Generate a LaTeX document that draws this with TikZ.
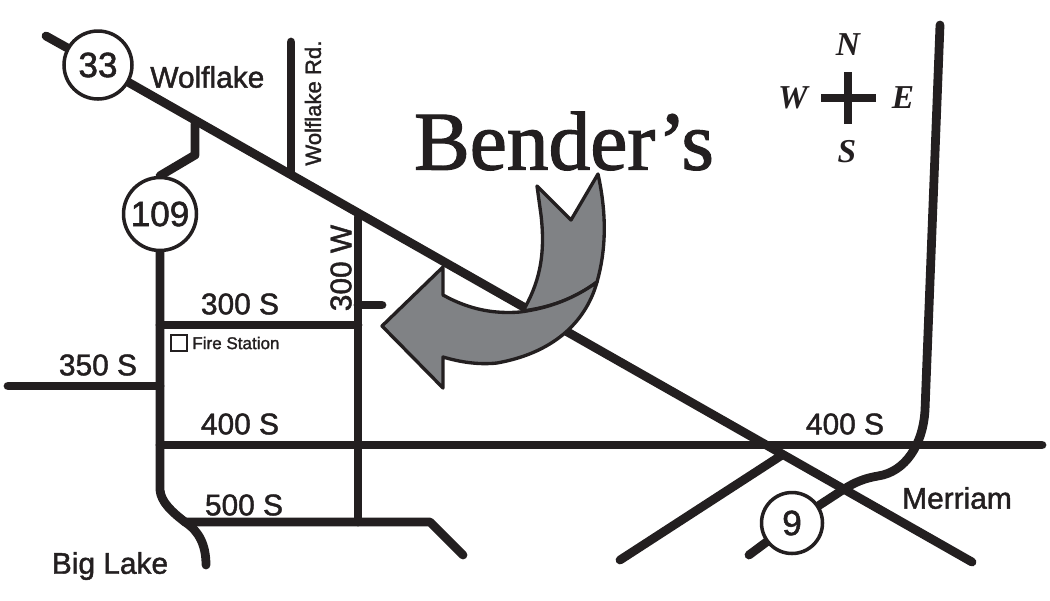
\documentclass[tikz,border=0pt]{standalone}
\usepackage{fontspec}
\usetikzlibrary{backgrounds}
\setmainfont{Liberation Sans}[FakeBold=1.5]
\newfontfamily\serifname{Liberation Serif}[FakeBold=1.5]
\newfontfamily\compassname{Liberation Serif}
\definecolor{ink}{HTML}{231F20}
\definecolor{arrowgray}{HTML}{808285}
\tikzset{
	road/.style={draw=ink, line width=5pt, line cap=round, line join=round},
	shield/.style={circle, draw=ink, fill=white, line width=2pt, inner sep=0pt, text=ink, font=\fontsize{20}{22}\selectfont},
	place/.style={text=ink, inner sep=0pt, font=\fontsize{17}{19}\selectfont},
	compass/.style={text=ink, inner sep=0pt, font=\compassname\bfseries\itshape\fontsize{19}{21}\selectfont},
	bigarrow/.style={draw=ink, fill=arrowgray, line width=1.9pt, line join=round}
}
\begin{document}
\begin{tikzpicture}[x=0.02cm, y=-0.02cm]
	\useasboundingbox (0,0) rectangle (1050,600);

	\coordinate (diagA) at (46,36);
	\coordinate (diagB) at (972,562);
	\coordinate (forkA) at (195,124);
	\coordinate (forkB) at (195,155);
	\coordinate (rdTop) at (291,42);
	\coordinate (rdFoot) at (291,174);
	\coordinate (wTop) at (358,217);
	\coordinate (wFoot) at (358,522);
	\coordinate (stubA) at (358,305);
	\coordinate (stubB) at (382,305);
	\coordinate (southA) at (160,325);
	\coordinate (southB) at (358,325);
	\coordinate (westA) at (8,386);
	\coordinate (westB) at (160,386);
	\coordinate (longA) at (160,445);
	\coordinate (longB) at (1042,445);
	\coordinate (lakeBend) at (185,522);
	\coordinate (lakeEnd) at (206,565);
	\coordinate (lowA) at (430,522);
	\coordinate (lowB) at (463,555);
	\coordinate (crossA) at (620,560);
	\coordinate (crossB) at (782,455);
	\coordinate (nineEnd) at (749,555);
	\coordinate (nineTop) at (940,25);

	\node [shield, minimum size=1.36cm] (s33) at (98,65) {33};
	\node [shield, minimum size=1.46cm] (s109) at (160,214) {109};
	\node [shield, minimum size=1.22cm] (s9) at (792,523) {9};

	% roads
	\begin{scope}[on background layer]
		\draw [road] (diagA) -- (s33) -- (diagB);
		\draw [road] (forkA) -- (forkB) -- (s109.north);
		\draw [road] (rdTop) -- (rdFoot);
		\draw [road] (wTop) -- (wFoot);
		\draw [road] (stubA) -- (stubB);
		\draw [road] (southA) -- (southB);
		\draw [road] (westA) -- (westB);
		\draw [road] (longA) -- (longB);
		\draw [road] (s109.south) -- (160,490) .. controls (161,502) and (172,512) .. (lakeBend) .. controls (199,531) and (206,545) .. (lakeEnd);
		\draw [road] (lakeBend) -- (lowA) -- (lowB);
		\draw [road] (crossA) -- (crossB);
		\draw [road] (nineTop) -- (925,410) .. controls (923,445) and (905,472) .. (878,476) .. controls (860,479) and (850,485) .. (838,493) -- (s9);
		\draw [road] (s9) -- (nineEnd);
	\end{scope}

	% pointer
	\draw [bigarrow] (523,311) .. controls (538,285) and (546,258) .. (541,215) -- (537,186) -- (571,220) -- (598,174) .. controls (607,215) and (606,250) .. (597,282) .. controls (573,300) and (550,307) .. cycle;
	\draw [bigarrow] (382,326) -- (443,267) -- (443,295) .. controls (470,310) and (495,314) .. (520,312) .. controls (550,308) and (575,298) .. (597,282) .. controls (587,318) and (558,352) .. (497,363) .. controls (478,365) and (460,362) .. (443,357) -- (443,388) -- cycle;

	% labels
	\node [place, anchor=west] (wolflake) at (150,77) {Wolflake};
	\node [place, anchor=west, rotate=90, font=\fontsize{12.6}{15}\selectfont] (wolflakeRd) at (313,166) {Wolflake Rd.};
	\node [place, rotate=90] (w300) at (341,268) {300 W};
	\node [place] (s300) at (240,304) {300 S};
	\node [place] (s350) at (98,365) {350 S};
	\node [place] (s400a) at (240,424) {400 S};
	\node [place] (s400b) at (845,424) {400 S};
	\node [place] (s500) at (244,505) {500 S};
	\node [place] (biglake) at (110,566) {Big Lake};
	\node [place] (merriam) at (957,498) {Merriam};
	\node [draw=ink, line width=1pt, minimum size=0.32cm, inner sep=0pt] (firebox) at (179,343) {};
	\node [place, anchor=west, font=\fontsize{9.7}{11}\selectfont] (fire) at (192,343) {Fire Station};

	\node [text=ink, inner sep=0pt, font=\serifname\fontsize{47.5}{50}\selectfont] (benders) at (564,141) {Bender’s};

	% compass
	\node [compass] (north) at (848,45) {N};
	\node [compass] (south) at (847,152) {S};
	\node [compass] (west) at (793,98) {W};
	\node [compass] (east) at (903,98) {E};
	\draw [draw=ink, line width=5pt] (821,98) -- (876,98);
	\draw [draw=ink, line width=5pt] (848,72) -- (848,124);
\end{tikzpicture}
\end{document}
